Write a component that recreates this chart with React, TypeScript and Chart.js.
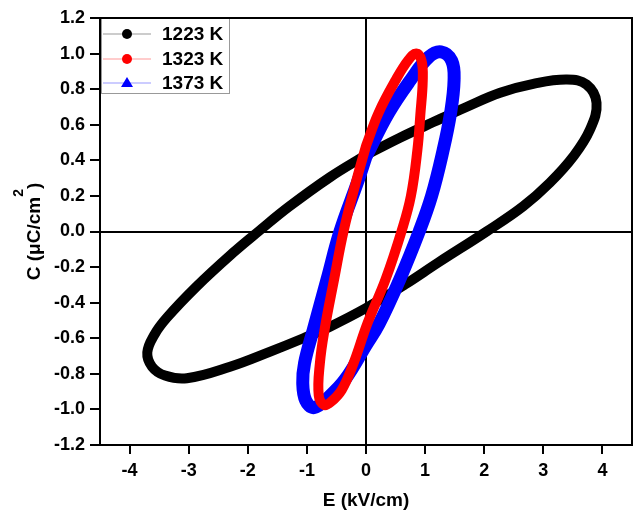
import React, { useEffect, useRef } from "react";
import { Chart, registerables } from "chart.js";

Chart.register(...registerables);

// ---- data ----
const xTicks = [-4, -3, -2, -1, 0, 1, 2, 3, 4];
const yTicks = [-1.2, -1.0, -0.8, -0.6, -0.4, -0.2, 0.0, 0.2, 0.4, 0.6, 0.8, 1.0, 1.2];
const seriesLabels = ["1223 K", "1323 K", "1373 K"];

const e1223 = [0, 0.575, 1.14, 1.7, 2.27, 2.83, 3.4, 3.73, 3.9, 3.79, 3.51, 3.11, 2.66, 2.04, 1.22, 0.65, 0, -0.61, -1.06, -1.62, -2.3, -3.03, -3.4, -3.62, -3.7, -3.58, -3.37, -2.86, -2.25, -1.82, -1.3, -0.61, 0];
const c1223 = [0.43, 0.527, 0.615, 0.7, 0.78, 0.83, 0.854, 0.826, 0.723, 0.573, 0.423, 0.274, 0.142, 0, -0.175, -0.3, -0.43, -0.535, -0.6, -0.675, -0.76, -0.825, -0.81, -0.76, -0.68, -0.58, -0.485, -0.307, -0.12, 0, 0.14, 0.305, 0.43];

const e1323 = [0, 0.21, 0.5, 0.72, 0.85, 0.94, 0.96, 0.92, 0.87, 0.76, 0.6, 0.33, 0.02, -0.21, -0.41, -0.6, -0.71, -0.8, -0.78, -0.7, -0.54, -0.38, -0.16, 0];
const c1323 = [0.48, 0.665, 0.85, 0.965, 1.0, 0.96, 0.85, 0.66, 0.46, 0.2, 0, -0.27, -0.52, -0.74, -0.89, -0.96, -0.975, -0.92, -0.74, -0.55, -0.27, 0, 0.29, 0.48];

const e1373 = [0, 0.38, 0.75, 1.06, 1.27, 1.45, 1.49, 1.43, 1.3, 1.11, 0.9, 0.57, 0.22, 0, -0.35, -0.63, -0.88, -1.02, -1.07, -1.04, -0.89, -0.66, -0.44, -0.14, 0];
const c1373 = [0.42, 0.665, 0.85, 0.98, 1.01, 0.96, 0.85, 0.665, 0.45, 0.2, 0, -0.27, -0.52, -0.64, -0.83, -0.93, -0.99, -0.95, -0.85, -0.74, -0.55, -0.27, 0, 0.28, 0.42];

const colors = ["#000000", "#ff0000", "#0000ff"];
const legendLineColors = ["#9a9a9a", "#ff9a9a", "#9a9aff"];

const FONT = "'Liberation Sans', Arial, sans-serif";

const toPts = (xs: number[], ys: number[]) => xs.map((x, i) => ({ x, y: ys[i] }));

const customPlugin = {
  id: "custom",
  afterDraw(chart: any) {
    const ctx = chart.ctx as CanvasRenderingContext2D;
    const a = chart.chartArea;
    ctx.save();
    // legend
    const lx = a.left + 1.5, ly = a.top - 0.5, lw = 128, lh = 76;
    ctx.fillStyle = "#fff";
    ctx.fillRect(lx, ly, lw, lh);
    ctx.strokeStyle = "#999";
    ctx.lineWidth = 1;
    ctx.strokeRect(lx, ly, lw, lh);
    const rows = [34, 59, 83];
    seriesLabels.forEach((lab, i) => {
      const y = rows[i];
      ctx.strokeStyle = legendLineColors[i];
      ctx.lineWidth = 1.2;
      ctx.beginPath();
      ctx.moveTo(103, y);
      ctx.lineTo(151, y);
      ctx.stroke();
      ctx.fillStyle = colors[i];
      ctx.beginPath();
      if (i < 2) {
        ctx.arc(127, y, 5, 0, Math.PI * 2);
      } else {
        ctx.moveTo(127, y - 6);
        ctx.lineTo(133, y + 4);
        ctx.lineTo(121, y + 4);
        ctx.closePath();
      }
      ctx.fill();
      ctx.fillStyle = "#000";
      ctx.font = `bold 19px ${FONT}`;
      ctx.textBaseline = "middle";
      ctx.textAlign = "left";
      ctx.fillText(lab, 162, y + 1);
    });
    // frame
    ctx.strokeStyle = "#000";
    ctx.lineWidth = 2;
    ctx.strokeRect(a.left, a.top, a.right - a.left, a.bottom - a.top);
    // y title with superscript
    const main1 = "C (\u03bcC/cm";
    const sup = "2";
    const main2 = ")";
    ctx.font = `bold 19px ${FONT}`;
    const w1 = ctx.measureText(main1).width;
    const w3 = ctx.measureText(main2).width;
    ctx.font = `bold 14px ${FONT}`;
    const w2 = ctx.measureText(sup).width;
    const total = w1 + w2 + w3;
    ctx.translate(40, (a.top + a.bottom) / 2);
    ctx.rotate(-Math.PI / 2);
    ctx.fillStyle = "#000";
    ctx.textBaseline = "alphabetic";
    ctx.textAlign = "left";
    let x = -total / 2;
    ctx.font = `bold 19px ${FONT}`;
    ctx.fillText(main1, x, 0);
    x += w1;
    ctx.font = `bold 14px ${FONT}`;
    ctx.fillText(sup, x, -17);
    x += w2;
    ctx.font = `bold 19px ${FONT}`;
    ctx.fillText(main2, x, 0);
    ctx.restore();
  },
};

export default function App() {
  const ref = useRef<HTMLCanvasElement | null>(null);
  useEffect(() => {
    if (!ref.current) return;
    const mk = (i: number, xs: number[], ys: number[], width: number, order: number) => ({
      label: seriesLabels[i],
      data: toPts(xs, ys),
      showLine: true,
      borderColor: colors[i],
      backgroundColor: colors[i],
      borderWidth: width,
      pointRadius: 0,
      tension: 0.4,
      borderCapStyle: "round",
      borderJoinStyle: "round",
      order,
    });
    const chart = new Chart(ref.current, {
      type: "scatter",
      data: {
        datasets: [
          mk(0, e1223, c1223, 10, 3),
          mk(1, e1323, c1323, 10, 1),
          mk(2, e1373, c1373, 13, 2),
        ] as any,
      },
      options: {
        animation: false,
        responsive: false,
        devicePixelRatio: 1,
        layout: { padding: { top: 18, right: 3, left: 0, bottom: 0 } },
        plugins: { legend: { display: false }, tooltip: { enabled: false } },
        scales: {
          x: {
            type: "linear",
            min: -4.5,
            max: 4.5,
            afterBuildTicks: (s: any) => {
              s.ticks = xTicks.map((v) => ({ value: v }));
            },
            afterFit: (s: any) => {
              s.height = 72;
            },
            ticks: {
              color: "#000",
              font: { family: FONT, size: 18, weight: "bold" },
              padding: 6,
              maxRotation: 0,
              callback: (v: any) => String(v),
            },
            grid: {
              color: (c: any) => (c.tick && c.tick.value === 0 ? "#000" : "rgba(0,0,0,0)"),
              lineWidth: 2,
              tickColor: "#000",
              tickLength: 9,
              tickWidth: 2,
            },
            border: { display: true, color: "#000", width: 2 },
            title: {
              display: true,
              text: "E (kV/cm)",
              color: "#000",
              font: { family: FONT, size: 19, weight: "bold" },
              padding: { top: 0, bottom: 5 },
            },
          },
          y: {
            type: "linear",
            min: -1.2,
            max: 1.2,
            afterBuildTicks: (s: any) => {
              s.ticks = yTicks.map((v) => ({ value: v }));
            },
            afterFit: (s: any) => {
              s.width = 100;
            },
            ticks: {
              color: "#000",
              font: { family: FONT, size: 18, weight: "bold" },
              padding: 5,
              callback: (v: any) => Number(v).toFixed(1),
            },
            grid: {
              color: (c: any) => (c.tick && Math.abs(c.tick.value) < 1e-9 ? "#000" : "rgba(0,0,0,0)"),
              lineWidth: 2,
              tickColor: "#000",
              tickLength: 10,
              tickWidth: 2,
            },
            border: { display: true, color: "#000", width: 2 },
            title: { display: false },
          },
        },
      },
      plugins: [customPlugin],
    });
    return () => chart.destroy();
  }, []);
  return (
    <div style={{ position: "fixed", left: 0, top: 0, width: 635, height: 517, background: "#fff" }}>
      <canvas ref={ref} width={635} height={517} style={{ display: "block" }} />
    </div>
  );
}
